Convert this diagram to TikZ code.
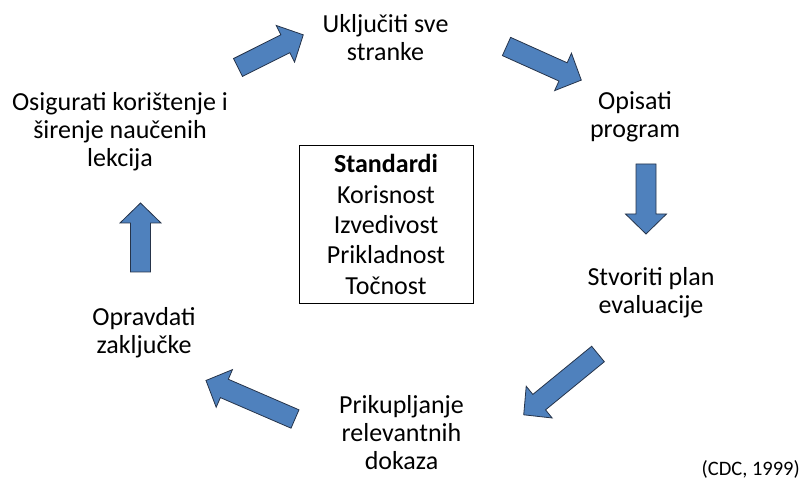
\documentclass[tikz,border=0pt]{standalone}
\usepackage{fontspec}
\setmainfont{Carlito}
\usepackage{tikz}
\definecolor{arrowblue}{RGB}{79,129,189}
\definecolor{arrowedge}{RGB}{38,52,74}

% block arrow: tail point, angle, length
\newcommand{\blockarrow}[3]{%
	\begin{scope}[shift={(#1)}, rotate=#2]
		\draw[arrowshape] (0,10) -- ({#3-20},10) -- ({#3-20},20.5) -- (#3,0) -- ({#3-20},-20.5) -- ({#3-20},-10) -- (0,-10) -- cycle;
	\end{scope}}

\begin{document}
\begin{tikzpicture}[x=1pt, y=-1pt,
	arrowshape/.style={fill=arrowblue, draw=arrowedge, line width=0.8pt, line join=miter},
	steplabel/.style={align=center, inner sep=0pt, font=\fontsize{26}{28}\selectfont}]

	\useasboundingbox (0,0) rectangle (801,481);

	% cycle steps
	\node[steplabel] (ukljuciti) at (385.5,38) {Uključiti sve\\stranke};
	\node[steplabel] (opisati) at (635,117) {Opisati\\program};
	\node[steplabel] (stvoriti) at (651,292.5) {Stvoriti plan\\evaluacije};
	\node[steplabel] (prikupljanje) at (401.5,433) {Prikupljanje\\relevantnih\\dokaza};
	\node[steplabel] (opravdati) at (144,333) {Opravdati\\zaključke};
	\node[steplabel] (osigurati) at (120,132) {Osigurati korištenje i\\širenje naučenih\\lekcija};

	% standards box in the middle
	\node[draw, line width=0.8pt, minimum width=174pt, minimum height=158pt, align=center,
		font=\fontsize{26}{30.3}\selectfont] (standardi) at (386,224.5)
		{\textbf{Standardi}\\Korisnost\\Izvedivost\\Prikladnost\\Točnost};

	% arrows round the cycle
	\blockarrow{238,67.5}{26.6}{73}
	\blockarrow{506.5,46.5}{-24.2}{82}
	\blockarrow{646,164}{-90}{70}
	\blockarrow{598,354}{219.3}{96}
	\blockarrow{295,419}{156.6}{97}
	\blockarrow{140.5,272}{90}{69}

	% source
	\node[anchor=east, inner sep=0pt, font=\fontsize{20.5}{24}\selectfont] (izvor) at (800,469) {(CDC, 1999)};

\end{tikzpicture}
\end{document}
